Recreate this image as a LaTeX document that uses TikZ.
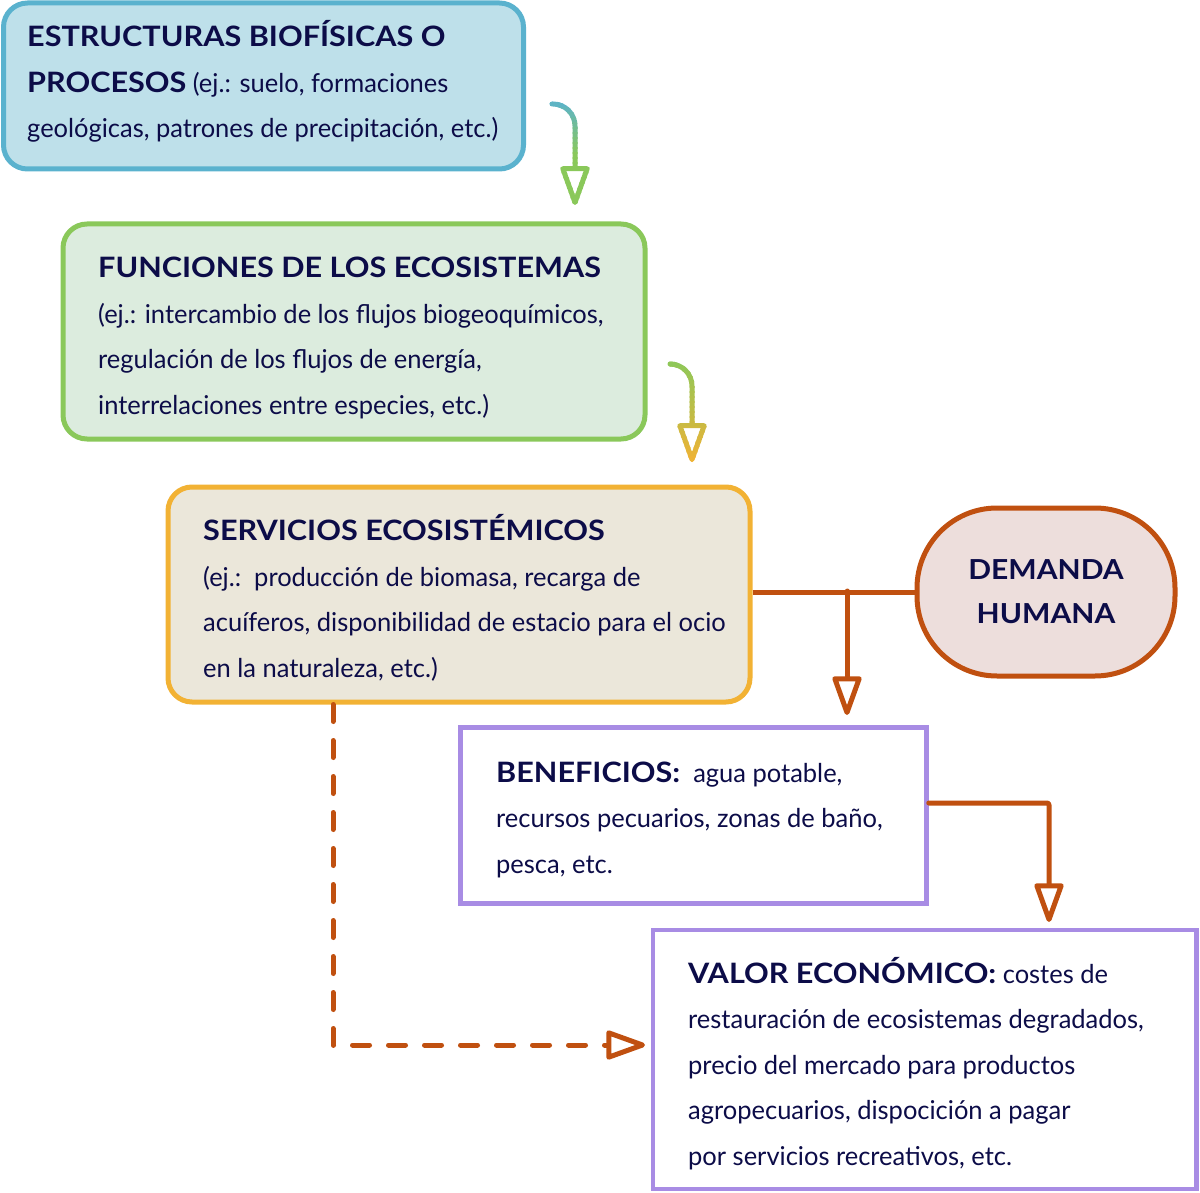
\documentclass[tikz,border=0pt]{standalone}
\usepackage{fontspec}
\setmainfont{Lato}[FakeStretch=0.98, BoldFeatures={Scale=1.08, FakeStretch=1.09}]
\usepackage{tikz}
\usetikzlibrary{arrows.meta}

\definecolor{ink}{RGB}{12,12,72}
\definecolor{estfill}{RGB}{190,224,234}
\definecolor{estline}{RGB}{90,178,206}
\definecolor{funfill}{RGB}{220,236,222}
\definecolor{funline}{RGB}{138,200,90}
\definecolor{serfill}{RGB}{235,231,218}
\definecolor{serline}{RGB}{242,178,52}
\definecolor{demfill}{RGB}{237,222,220}
\definecolor{rust}{RGB}{192,80,16}
\definecolor{lilac}{RGB}{168,140,228}

\begin{document}
\begin{tikzpicture}[x=1pt,y=-1pt,
    box/.style={draw, line width=5pt, rounded corners=24pt, inner sep=0pt},
    plain/.style={draw=lilac, line width=4.5pt, fill=white, inner sep=0pt},
    txt/.style={text=ink, anchor=base west, align=left, inner sep=0pt, font=\fontsize{26}{45.5}\selectfont},
    hollow/.style={line width=5pt, line cap=round, line join=round, -{Triangle[open,round,length=44pt,width=30pt]}}]

  % canvas
  \useasboundingbox (0,0) rectangle (1200,1193);

  % draw the boxes
  \node[box, draw=estline, fill=estfill, minimum width=520pt, minimum height=166pt] (est) at (263.5,86) {};
  \node[box, draw=funline, fill=funfill, minimum width=582pt, minimum height=215pt] (fun) at (354,331.5) {};
  \node[box, draw=serline, fill=serfill, minimum width=582pt, minimum height=215pt] (ser) at (459,594.5) {};
  \node[box, draw=rust, fill=demfill, rounded corners=80pt, minimum width=258pt, minimum height=168pt,
        text=ink, font=\fontsize{25.5}{44}\selectfont\bfseries, align=center] (dem) at (1046,592) {DEMANDA\\HUMANA};
  \node[plain, minimum width=466pt, minimum height=176pt] (ben) at (693.5,815.5) {};
  \node[plain, minimum width=543.5pt, minimum height=259pt] (val) at (924.75,1059.5) {};

  % texts of the boxes (placed at the baseline of their last line)
  \node[txt] (esttxt) at (27,138) {\textbf{ESTRUCTURAS BIOFÍSICAS O}\\\textbf{PROCESOS} (ej.: suelo, formaciones\\geológicas, patrones de precipitación, etc.)};
  \node[txt] (funtxt) at (98,414) {\textbf{FUNCIONES DE LOS ECOSISTEMAS}\\(ej.: intercambio de los flujos biogeoquímicos,\\regulación de los flujos de energía,\\interrelaciones entre especies, etc.)};
  \node[txt] (sertxt) at (203,677) {\textbf{SERVICIOS ECOSISTÉMICOS}\\(ej.:\ \ producción de biomasa, recarga de\\acuíferos, disponibilidad de estacio para el ocio\\en la naturaleza, etc.)};
  \node[txt] (bentxt) at (496,873) {\textbf{BENEFICIOS:}\ \ agua potable,\\recursos pecuarios, zonas de baño,\\pesca, etc.};
  \node[txt] (valtxt) at (688,1165) {\textbf{VALOR ECONÓMICO:} costes de\\restauración de ecosistemas degradados,\\precio del mercado para productos\\agropecuarios, dispocición a pagar\\por servicios recreativos, etc.};

  % arrows between the upper boxes, the colour runs from one box to the next
  \coordinate (a1s) at (552,104);
  \coordinate (a1e) at (575,205);
  \coordinate (a2s) at (671,364);
  \coordinate (a2e) at (692,462);
  \foreach \n [evaluate = \n as \pct using {min(100,\n*9)}, evaluate = \n as \ya using 98+\n*5] in {0,...,22}
  {
    \begin{scope}
      \clip (530,\ya-0.5) rectangle (620,\ya+5.5);
      \draw[hollow, rounded corners=22pt, draw=funline!\pct!estline] (a1s) -| (a1e);
    \end{scope}
  }
  \foreach \n [evaluate = \n as \pct using \n*100/21, evaluate = \n as \ya using 357+\n*5] in {0,...,21}
  {
    \begin{scope}
      \clip (650,\ya-0.5) rectangle (740,\ya+5.5);
      \draw[hollow, rounded corners=22pt, draw=serline!\pct!funline] (a2s) -| (a2e);
    \end{scope}
  }

  % human demand and what comes out of it
  \coordinate (fork) at (847,591);
  \coordinate (bentip) at (847,715);
  \coordinate (b2v) at (927,803);
  \coordinate (valtip) at (1049,922);
  \coordinate (dashtop) at (333,709);
  \coordinate (dashtip) at (645,1045);
  \draw[rust, line width=5pt] (ser.east |- dem.west) -- (dem.west);
  \draw[hollow, draw=rust] (fork) -- (bentip);
  \draw[hollow, draw=rust, rounded corners=2pt] (ben.east |- b2v) -| (valtip);
  \draw[hollow, draw=rust, dash pattern=on 17pt off 19pt] (ser.south -| dashtop) |- (dashtip);

\end{tikzpicture}
\end{document}
